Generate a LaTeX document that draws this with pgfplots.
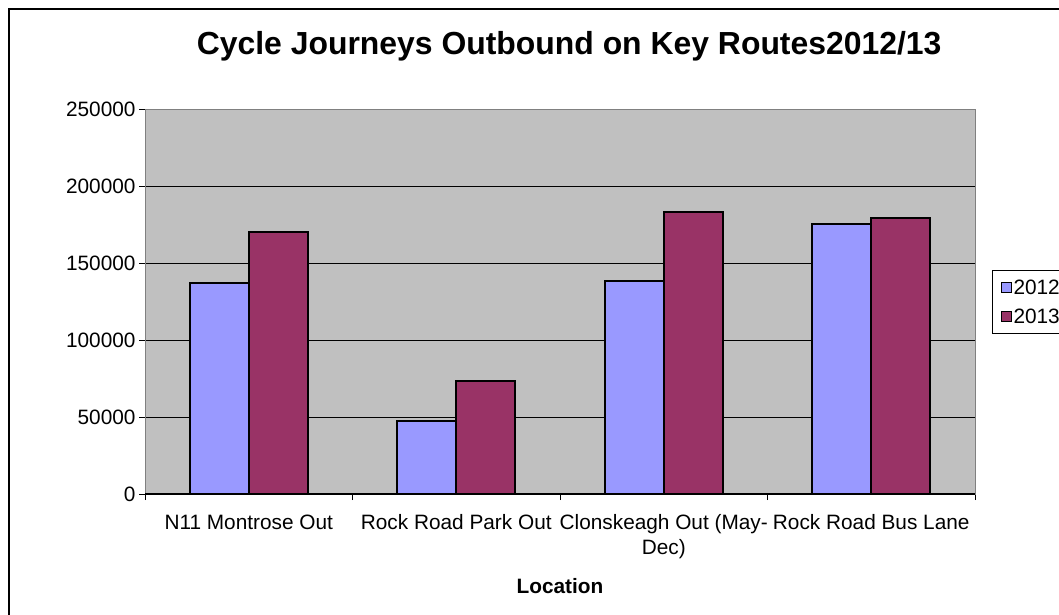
\documentclass[border=0pt]{standalone}
\usepackage{pgfplots}
\pgfplotsset{compat=1.18}
\usepackage{fontspec}
\setmainfont{Liberation Sans}
\definecolor{cA}{HTML}{9999FF}
\definecolor{cB}{HTML}{993366}
\definecolor{plotbg}{HTML}{C0C0C0}
\begin{document}
\begin{tikzpicture}[x=1pt,y=1pt]
\useasboundingbox (0,0) rectangle (1059,614);
\begin{scope}
\clip (0,0) rectangle (1059,614);
\fill[white] (0,0) rectangle (1059,614);
\draw[line width=2pt] (9,-20) rectangle (1100,605);
\begin{axis}[
  at={(145pt,120pt)}, anchor=south west,
  width=830pt, height=385pt, scale only axis,
  xmin=-0.5, xmax=3.5, ymin=0, ymax=250000,
  axis background/.style={fill=plotbg},
  axis line style={draw=black!50, line width=1pt},
  ytick={0,50000,100000,150000,200000,250000},
  scaled y ticks=false,
  yticklabel style={/pgf/number format/fixed, /pgf/number format/1000 sep={}, /pgf/number format/assume math mode=true, font=\fontsize{20.8}{24}\selectfont},
  xtick={-0.5,0.5,1.5,2.5,3.5},
  xticklabels={{},{},{},{},{}},
  extra x ticks={0,1,2,3},
  extra x tick labels={N11 Montrose Out,Rock Road Park Out,{Clonskeagh Out (May-\\Dec)},Rock Road Bus Lane},
  extra x tick style={major tick length=0pt, xticklabel style={font=\fontsize{20.8}{25}\selectfont, align=center, anchor=north, yshift=-17pt}},
  xtick pos=lower, ytick pos=left,
  tick align=outside, major tick length=6pt,
  tick style={black, line width=1pt},
  ymajorgrids, major grid style={black, line width=0.9pt},
  title={Cycle Journeys Outbound on Key Routes2012/13},
  title style={at={(axis description cs:0.511,1.125)}, anchor=base, font=\bfseries\fontsize{31.9}{38}\selectfont},
  xlabel={Location},
  xlabel style={at={(axis description cs:0.5,-0.2597)}, anchor=base, font=\bfseries\fontsize{20.8}{24}\selectfont},
  legend style={at={(axis description cs:1.0205,0.5818)}, anchor=north west, draw=black, line width=1pt, fill=white, font=\fontsize{20.8}{24}\selectfont, inner xsep=8pt, inner ysep=7pt, row sep=9pt},
  legend cell align=left,
  legend image code/.code={\draw[#1,draw=black,line width=1pt] (0pt,-5pt) rectangle (10pt,5pt);},
]
\addplot[ybar, bar width=0.2843, bar shift=-0.1422, fill=cA, draw=black, line width=1.8pt] coordinates {(0,136800) (1,47600) (2,138500) (3,175300)};
\addlegendentry{2012}
\addplot[ybar, bar width=0.2843, bar shift=0.1422, fill=cB, draw=black, line width=1.8pt] coordinates {(0,170300) (1,73500) (2,183100) (3,179200)};
\addlegendentry{2013}
\draw[black, line width=1.2pt] (rel axis cs:0,0) -- (rel axis cs:1,0);
\end{axis}
\end{scope}
\end{tikzpicture}
\end{document}
